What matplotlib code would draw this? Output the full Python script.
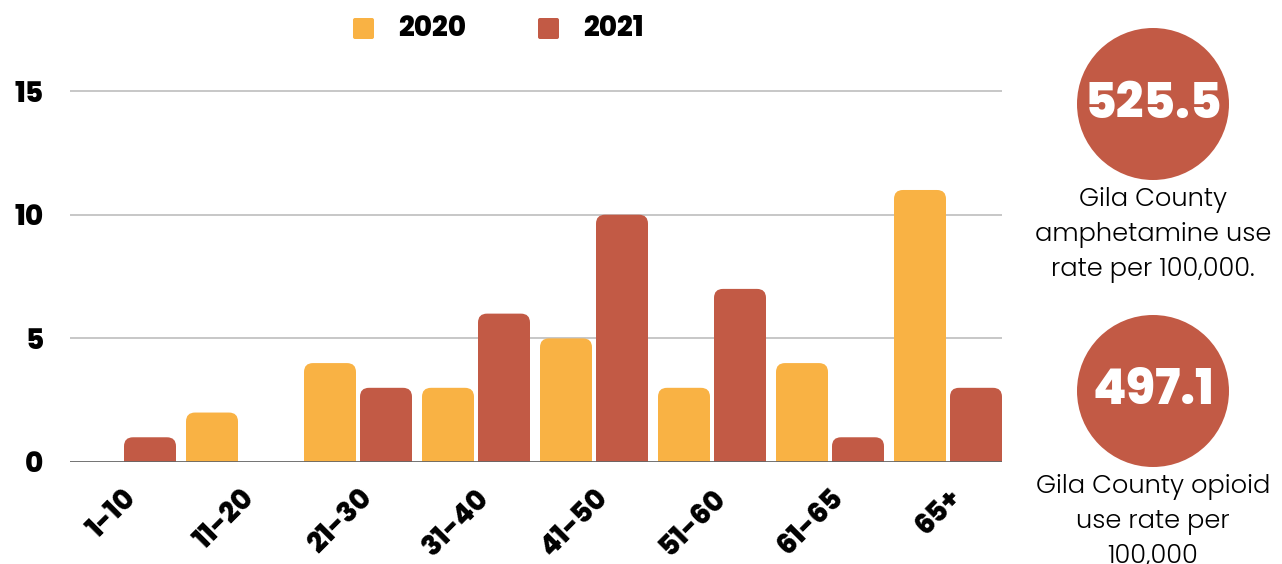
import numpy as np
import matplotlib
matplotlib.use("Agg")
import matplotlib.pyplot as plt
from matplotlib.patches import FancyBboxPatch, Rectangle, Circle

age_groups = ["1-10", "11-20", "21-30", "31-40", "41-50", "51-60", "61-65", "65+"]
cases_2020 = [0, 2, 4, 3, 5, 3, 4, 11]
cases_2021 = [1, 0, 3, 6, 10, 7, 1, 3]
year_labels = ["2020", "2021"]
y_ticks = [0, 5, 10, 15]

rate_values = ["525.5", "497.1"]
rate_captions = ["Gila County\namphetamine use\nrate per 100,000.",
                 "Gila County opioid\nuse rate per\n100,000"]

c2020 = "#F9B244"
c2021 = "#C25A45"
font = ["Poppins", "Lato", "DejaVu Sans"]

W, H = 1282, 564
fig = plt.figure(figsize=(W / 100, H / 100), dpi=100)

# axes placed in pixel terms
left, right, bottom_px, top_px = 70, 1002, 462, 78.7
ax = fig.add_axes([left / W, (H - bottom_px) / H, (right - left) / W, (bottom_px - top_px) / H])
n = len(age_groups)
group_px = 118.0           # spacing between group centres
first_center = 122.0       # pixel x of the first group
ax.set_xlim(-(first_center - left) / group_px, (right - first_center) / group_px)
ax.set_ylim(0, 15.5)

for s in ax.spines.values():
    s.set_visible(False)
for t in [5, 10, 15]:
    ax.axhline(t, color="#c3c3c3", lw=1.3, zorder=0)
ax.axhline(0, color="#666666", lw=2, zorder=3)

px_x = 1 / group_px                  # data units per pixel, x
px_y = 15.5 / (bottom_px - top_px)   # data units per pixel, y
aspect = px_y / px_x
bar_w = 52 * px_x
offset = 28 * px_x
r_px = 9


def rounded_bar(xc, h, color):
    if h <= 0:
        return
    x0 = xc - bar_w / 2
    ax.add_patch(FancyBboxPatch((x0, 0), bar_w, h,
                                boxstyle=f"round,pad=0,rounding_size={r_px * px_x}",
                                mutation_aspect=aspect, fc=color, ec="none", zorder=2))
    # square off the bottom corners
    ax.add_patch(Rectangle((x0, 0), bar_w, min(h / 2, r_px * px_y + 0.01),
                           fc=color, ec="none", zorder=2))


x = np.arange(n)
for i in range(n):
    rounded_bar(x[i] - offset, cases_2020[i], c2020)
    rounded_bar(x[i] + offset, cases_2021[i], c2021)

ax.set_yticks(y_ticks)
ax.set_yticklabels([str(t) for t in y_ticks], fontsize=20, fontweight="heavy", family=font)
ax.tick_params(axis="y", length=0, pad=19)
ax.set_xticks(x)
ax.set_xticklabels(age_groups, rotation=45, ha="right", va="top", rotation_mode="anchor",
                   fontsize=20, fontweight="heavy", family=font)
ax.tick_params(axis="x", length=0, pad=16)

# overlay in pixel coordinates for legend and rate circles
side = fig.add_axes([0, 0, 1, 1], zorder=5)
side.set_xlim(0, W)
side.set_ylim(H, 0)
side.axis("off")

for lx, lab, col in zip([353, 538], year_labels, [c2020, c2021]):
    side.add_patch(FancyBboxPatch((lx, 18), 21, 21, boxstyle="round,pad=0,rounding_size=2",
                                  fc=col, ec="none"))
    side.text(lx + 45, 29, lab, fontsize=20, fontweight="heavy", family=font,
              ha="left", va="center")

for cy, val, cap in zip([104, 391], rate_values, rate_captions):
    side.add_patch(Circle((1153, cy), 76, fc=c2021, ec="none"))
    side.text(1153, cy + 2, val, color="white", fontsize=35, fontweight="heavy",
              family=font, ha="center", va="center")
    for k, line in enumerate(cap.split("\n")):
        side.text(1153, cy + 96 + 35 * k, line, color="#000000", fontsize=18.5,
                  fontweight=300, family=font, ha="center", va="center")

fig.savefig("out.png", dpi=100, facecolor="white")
